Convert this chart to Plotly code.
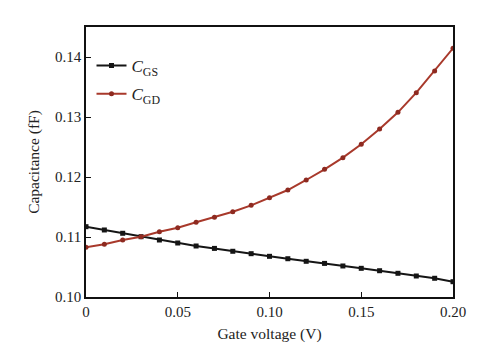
import plotly.graph_objects as go

voltage = [round(i * 0.01, 2) for i in range(21)]
c_gs = [0.11172, 0.11117, 0.11062, 0.11005, 0.1095, 0.1090, 0.1085, 0.1081, 0.10762, 0.10722,
        0.10678, 0.10638, 0.10595, 0.1056, 0.10517, 0.10478, 0.10438, 0.10395, 0.1035, 0.10312, 0.10255]
c_gd = [0.1083, 0.1088, 0.1095, 0.11005, 0.11088, 0.11155, 0.11245, 0.11328, 0.11422, 0.11528,
        0.11655, 0.11783, 0.1195, 0.12128, 0.12322, 0.12545, 0.1280, 0.13078, 0.13405, 0.13767, 0.14145]
x_ticks = [0, 0.05, 0.10, 0.15, 0.20]
x_labels = ["0", "0.05", "0.10", "0.15", "0.20"]
y_ticks = [0.10, 0.11, 0.12, 0.13, 0.14]
y_labels = ["0.10", "0.11", "0.12", "0.13", "0.14"]

font_family = "Liberation Serif, Times New Roman, serif"

fig = go.Figure()
fig.add_trace(go.Scatter(
    x=voltage, y=c_gs, mode="lines+markers",
    name="<i>C</i><sub>GS</sub>", legendgroup="gs",
    line=dict(color="#151515", width=2),
    marker=dict(symbol="square", size=5, color="#151515"),
))
fig.add_trace(go.Scatter(
    x=voltage, y=c_gd, mode="lines+markers",
    name="<i>C</i><sub>GD</sub>", legendgroup="gd",
    line=dict(color="#a8392b", width=2),
    marker=dict(symbol="circle", size=5, color="#8e2a20"),
))

axis_common = dict(
    showline=True, linecolor="#111", linewidth=1.5, mirror=True,
    ticks="inside", ticklen=5, tickcolor="#111", tickwidth=1,
    showgrid=False, zeroline=False,
    tickfont=dict(family=font_family, size=15, color="#222"),
    title_font=dict(family=font_family, size=15.5, color="#222"),
)

fig.update_layout(
    width=492, height=353,
    margin=dict(l=86, r=39, t=27, b=56),
    paper_bgcolor="white", plot_bgcolor="white",
    font=dict(family=font_family, color="#222"),
    showlegend=True,
    legend=dict(
        x=0.015, y=0.922, xanchor="left", yanchor="top",
        bgcolor="rgba(0,0,0,0)",
        font=dict(family=font_family, size=17, color="#222"),
        traceorder="grouped", tracegroupgap=3, itemwidth=30,
    ),
    xaxis=dict(range=[0, 0.2], tickvals=x_ticks, ticktext=x_labels,
               title=dict(text="Gate voltage (V)", standoff=9), **axis_common),
    yaxis=dict(range=[0.10, 0.145], tickvals=y_ticks, ticktext=y_labels,
               title=dict(text="Capacitance (fF)", standoff=12), **axis_common),
)

fig.write_html("out.html")
